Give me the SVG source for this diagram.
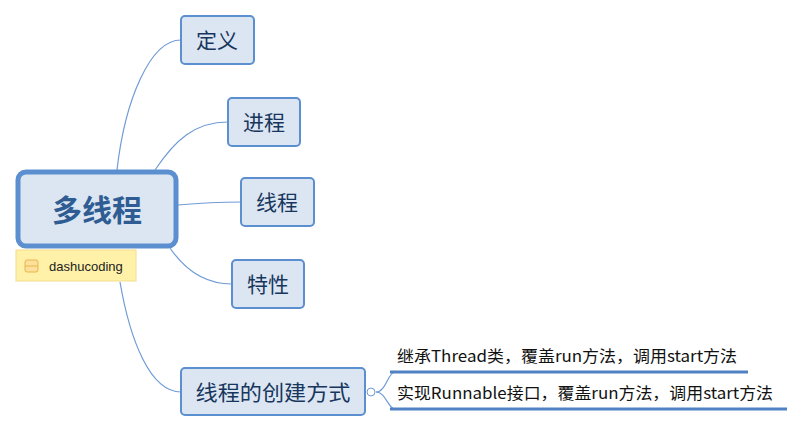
<svg xmlns="http://www.w3.org/2000/svg" width="803" height="432" viewBox="0 0 803 432">
<style>
.n{fill:#dce6f2;stroke:#5b8fd0;stroke-width:2}
.t{font-family:"Noto Sans CJK SC",sans-serif;fill:#17365d;font-size:21px;text-anchor:middle}
.s{font-family:"Noto Sans CJK SC",sans-serif;fill:#111;font-size:16px}
.c{fill:none;stroke:#6f9bd6;stroke-width:1.2}
</style>
<rect width="803" height="432" fill="#fff"/>
<g id="connectors">
<path class="c" d="M117 170 C125 100 150 40 181 40"/>
<path class="c" d="M155 170 C175 140 195 122 228 122"/>
<path class="c" d="M178 205 C200 203 220 202 241 202"/>
<path class="c" d="M170 248 C185 270 205 284 232 284"/>
<path class="c" d="M120 282 C130 340 150 392 181 392"/>
<path class="c" d="M376 392 C386 392 388 372 395 372 L748 372"/>
<path class="c" d="M376 392 C386 392 388 409 395 409 L787 409"/>
<path d="M390 372 L748 372 M390 409 L787 409" stroke="#4f81c4" stroke-width="3" fill="none"/>
<circle cx="371" cy="392" r="4" fill="#fff" stroke="#6f9bd6"/>
</g>
<g id="root">
<rect x="18" y="172" width="158" height="74" rx="8" fill="#dce6f2" stroke="#5b8fd0" stroke-width="5"/>
<text x="97" y="221" class="t" style="font-size:30px;font-weight:bold;fill:#2e5c93">多线程</text>
</g>
<g id="note">
<rect x="16" y="250" width="120" height="31" fill="#fff2a8" stroke="#f2dc8c"/>
<rect x="25" y="260" width="13" height="12" rx="2" fill="#fde19b" stroke="#e9b550"/>
<line x1="25" y1="266" x2="38" y2="266" stroke="#e9b550"/>
<text x="49" y="271" style="font-family:'Liberation Sans',sans-serif;font-size:13px;fill:#222">dashucoding</text>
</g>
<g id="n1"><rect class="n" x="181" y="16" width="73" height="48" rx="4"/><text x="217" y="48" class="t">定义</text></g>
<g id="n2"><rect class="n" x="228" y="98" width="72" height="48" rx="4"/><text x="264" y="130" class="t">进程</text></g>
<g id="n3"><rect class="n" x="241" y="178" width="73" height="48" rx="4"/><text x="277" y="210" class="t">线程</text></g>
<g id="n4"><rect class="n" x="232" y="260" width="72" height="48" rx="4"/><text x="268" y="292" class="t">特性</text></g>
<g id="n5"><rect class="n" x="181" y="368" width="184" height="47" rx="4"/><text x="273" y="400" class="t" textLength="155" lengthAdjust="spacingAndGlyphs">线程的创建方式</text></g>
<g id="l1"><text x="397" y="362" class="s" textLength="340" lengthAdjust="spacingAndGlyphs">继承Thread类，覆盖run方法，调用start方法</text></g>
<g id="l2"><text x="397" y="399" class="s" textLength="376" lengthAdjust="spacingAndGlyphs">实现Runnable接口，覆盖run方法，调用start方法</text></g>
</svg>
